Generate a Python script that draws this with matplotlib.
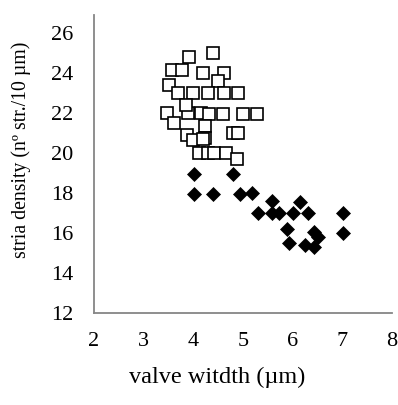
import matplotlib
matplotlib.use("Agg")
import matplotlib.pyplot as plt

# Valve width (µm) and stria density for the two groups
width_open = [3.92, 4.40, 3.57, 3.78, 4.19, 4.61, 4.50, 3.50, 3.70, 3.99,
              4.30, 4.61, 4.89, 3.47, 3.62, 3.90, 4.15, 4.31, 4.60, 5.00,
              5.29, 4.24, 3.88, 3.99, 4.24, 4.80, 4.90, 4.12, 4.30, 4.41,
              4.66, 4.88, 4.20, 3.85]
density_open = [24.8, 25.0, 24.15, 24.15, 24.0, 24.0, 23.6, 23.4, 23.0, 23.0,
                23.0, 23.0, 23.0, 22.0, 21.5, 22.0, 22.0, 21.95, 21.95, 21.95,
                21.95, 21.35, 20.9, 20.63, 20.77, 21.0, 21.0, 20.0, 20.0, 20.0,
                20.0, 19.7, 20.7, 22.4]

width_filled = [4.01, 4.80, 4.01, 4.40, 4.94, 5.19, 5.59, 6.15, 5.30, 5.59,
                5.72, 6.01, 6.31, 7.02, 5.89, 7.02, 6.42, 6.50, 5.93, 6.24,
                6.42]
density_filled = [18.95, 18.95, 17.95, 17.95, 17.95, 18.0, 17.6, 17.57, 17.0, 17.0,
                  17.0, 17.0, 17.0, 17.0, 16.2, 15.98, 16.07, 15.8, 15.5, 15.4,
                  15.3]

x_ticks = [2, 3, 4, 5, 6, 7, 8]
y_ticks = [12, 14, 16, 18, 20, 22, 24, 26]

plt.rcParams['font.family'] = ['Liberation Serif', 'DejaVu Serif']

fig = plt.figure(figsize=(3.98, 4.05), dpi=100)
ax = fig.add_axes([94 / 398, 1 - 313 / 405, 298 / 398, 298 / 405])

ax.plot(width_open, density_open, linestyle='none', marker='s', markersize=8.8,
        markerfacecolor='white', markeredgecolor='black', markeredgewidth=1.2)
ax.plot(width_filled, density_filled, linestyle='none', marker='D', markersize=7.0,
        markerfacecolor='black', markeredgecolor='black', markeredgewidth=0.5)

ax.set_xlim(2, 8)
ax.set_ylim(12, 26.9)
ax.set_xticks(x_ticks)
ax.set_yticks(y_ticks)
ax.tick_params(axis='both', length=0, labelsize=16, colors='black')
ax.tick_params(axis='x', pad=14)
ax.tick_params(axis='y', pad=15)

for side in ('top', 'right'):
    ax.spines[side].set_visible(False)
for side in ('left', 'bottom'):
    ax.spines[side].set_color('#868686')
    ax.spines[side].set_linewidth(1.3)

ax.set_xlabel('valve witdth (µm)', fontsize=17.5, va='center')
ax.xaxis.set_label_coords(0.413, -0.217)
ax.set_ylabel('stria density (nº str./10 µm)', fontsize=14.2, va='center')
ax.yaxis.set_label_coords(-0.245, 0.547)

fig.savefig('out.png', dpi=100)
